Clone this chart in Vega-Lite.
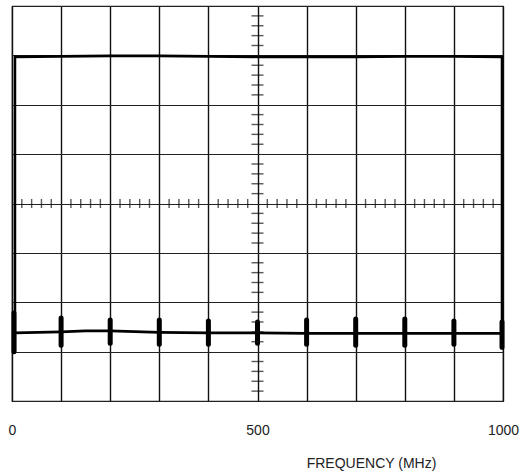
{
  "$schema": "https://vega.github.io/schema/vega-lite/v6.json",
  "width": 491,
  "height": 395,
  "autosize": "none",
  "padding": {"left": 12, "top": 6, "right": 20, "bottom": 73},
  "background": "white",
  "config": {
    "view": {"stroke": "#222", "strokeWidth": 1.2},
    "font": "Liberation Sans"
  },
  "datasets": {
    "trace": [
      {"series": "upper", "ord": 1, "freq": 6, "level": 0.99},
      {"series": "upper", "ord": 2, "freq": 6, "level": 6.97},
      {"series": "upper", "ord": 3, "freq": 100, "level": 6.98},
      {"series": "upper", "ord": 4, "freq": 200, "level": 6.99},
      {"series": "upper", "ord": 5, "freq": 300, "level": 6.99},
      {"series": "upper", "ord": 6, "freq": 400, "level": 6.98},
      {"series": "upper", "ord": 7, "freq": 500, "level": 6.97},
      {"series": "upper", "ord": 8, "freq": 600, "level": 6.97},
      {"series": "upper", "ord": 9, "freq": 700, "level": 6.97},
      {"series": "upper", "ord": 10, "freq": 800, "level": 6.98},
      {"series": "upper", "ord": 11, "freq": 900, "level": 6.98},
      {"series": "upper", "ord": 12, "freq": 998, "level": 6.97},
      {"series": "upper", "ord": 13, "freq": 998, "level": 1.05},
      {"series": "lower", "ord": 1, "freq": 6, "level": 1.38},
      {"series": "lower", "ord": 2, "freq": 100, "level": 1.4},
      {"series": "lower", "ord": 3, "freq": 150, "level": 1.42},
      {"series": "lower", "ord": 4, "freq": 200, "level": 1.42},
      {"series": "lower", "ord": 5, "freq": 300, "level": 1.39},
      {"series": "lower", "ord": 6, "freq": 400, "level": 1.38},
      {"series": "lower", "ord": 7, "freq": 500, "level": 1.38},
      {"series": "lower", "ord": 8, "freq": 600, "level": 1.37},
      {"series": "lower", "ord": 9, "freq": 700, "level": 1.37},
      {"series": "lower", "ord": 10, "freq": 800, "level": 1.37},
      {"series": "lower", "ord": 11, "freq": 900, "level": 1.37},
      {"series": "lower", "ord": 12, "freq": 998, "level": 1.37}
    ],
    "markers": [
      {"freq": 4, "lo": 1.0, "hi": 1.78},
      {"freq": 100, "lo": 1.13, "hi": 1.68},
      {"freq": 200, "lo": 1.17, "hi": 1.64},
      {"freq": 300, "lo": 1.15, "hi": 1.64},
      {"freq": 400, "lo": 1.15, "hi": 1.62},
      {"freq": 500, "lo": 1.17, "hi": 1.6},
      {"freq": 600, "lo": 1.15, "hi": 1.64},
      {"freq": 700, "lo": 1.13, "hi": 1.66},
      {"freq": 800, "lo": 1.13, "hi": 1.66},
      {"freq": 900, "lo": 1.15, "hi": 1.62},
      {"freq": 998, "lo": 1.09, "hi": 1.6}
    ],
    "xticks": [
      {"f": 20}, {"f": 40}, {"f": 60}, {"f": 80},
      {"f": 120}, {"f": 140}, {"f": 160}, {"f": 180},
      {"f": 220}, {"f": 240}, {"f": 260}, {"f": 280},
      {"f": 320}, {"f": 340}, {"f": 360}, {"f": 380},
      {"f": 420}, {"f": 440}, {"f": 460}, {"f": 480},
      {"f": 520}, {"f": 540}, {"f": 560}, {"f": 580},
      {"f": 620}, {"f": 640}, {"f": 660}, {"f": 680},
      {"f": 720}, {"f": 740}, {"f": 760}, {"f": 780},
      {"f": 820}, {"f": 840}, {"f": 860}, {"f": 880},
      {"f": 920}, {"f": 940}, {"f": 960}, {"f": 980}
    ],
    "yticks": [
      {"v": 0.2}, {"v": 0.4}, {"v": 0.6}, {"v": 0.8},
      {"v": 1.2}, {"v": 1.4}, {"v": 1.6}, {"v": 1.8},
      {"v": 2.2}, {"v": 2.4}, {"v": 2.6}, {"v": 2.8},
      {"v": 3.2}, {"v": 3.4}, {"v": 3.6}, {"v": 3.8},
      {"v": 4.2}, {"v": 4.4}, {"v": 4.6}, {"v": 4.8},
      {"v": 5.2}, {"v": 5.4}, {"v": 5.6}, {"v": 5.8},
      {"v": 6.2}, {"v": 6.4}, {"v": 6.6}, {"v": 6.8},
      {"v": 7.2}, {"v": 7.4}, {"v": 7.6}, {"v": 7.8}
    ]
  },
  "layer": [
    {
      "data": {"name": "trace"},
      "mark": {"type": "line", "color": "#000", "strokeWidth": 2.6, "interpolate": "linear"},
      "encoding": {
        "x": {
          "field": "freq", "type": "quantitative",
          "scale": {"domain": [0, 1000], "nice": false},
          "axis": {
            "values": [0, 100, 200, 300, 400, 500, 600, 700, 800, 900, 1000],
            "labelExpr": "datum.value % 500 === 0 ? datum.label : ''",
            "format": "d",
            "grid": true, "gridColor": "#111", "gridWidth": 1.4,
            "ticks": false, "domain": false,
            "labelPadding": 22, "labelBaseline": "top",
            "labelFont": "Liberation Sans", "labelFontSize": 14, "labelColor": "#222",
            "labelFlush": false, "labelOverlap": false,
            "title": "FREQUENCY (MHz)",
            "titleFont": "Liberation Sans", "titleFontSize": 14, "titleFontWeight": "normal",
            "titleColor": "#222", "titleAnchor": "start", "titleAlign": "center",
            "titleX": 359, "titleY": 66, "titleBaseline": "alphabetic"
          }
        },
        "y": {
          "field": "level", "type": "quantitative",
          "scale": {"domain": [0, 8], "nice": false},
          "axis": {
            "values": [0, 1, 2, 3, 4, 5, 6, 7, 8],
            "grid": true, "gridColor": "#222", "gridWidth": 1.2,
            "ticks": false, "domain": false, "labels": false, "title": null
          }
        },
        "detail": {"field": "series"},
        "order": {"field": "ord", "type": "quantitative"}
      }
    },
    {
      "data": {"name": "markers"},
      "mark": {"type": "rule", "color": "#000", "strokeWidth": 5, "strokeCap": "round"},
      "encoding": {
        "x": {"field": "freq", "type": "quantitative"},
        "y": {"field": "lo", "type": "quantitative"},
        "y2": {"field": "hi"}
      }
    },
    {
      "data": {"name": "xticks"},
      "mark": {"type": "tick", "orient": "vertical", "color": "#111", "size": 9, "thickness": 1.4},
      "encoding": {
        "x": {"field": "f", "type": "quantitative"},
        "y": {"datum": 4, "type": "quantitative"}
      }
    },
    {
      "data": {"name": "yticks"},
      "mark": {"type": "tick", "orient": "horizontal", "color": "#111", "size": 12, "thickness": 1.4},
      "encoding": {
        "x": {"datum": 500, "type": "quantitative"},
        "y": {"field": "v", "type": "quantitative"}
      }
    }
  ]
}
